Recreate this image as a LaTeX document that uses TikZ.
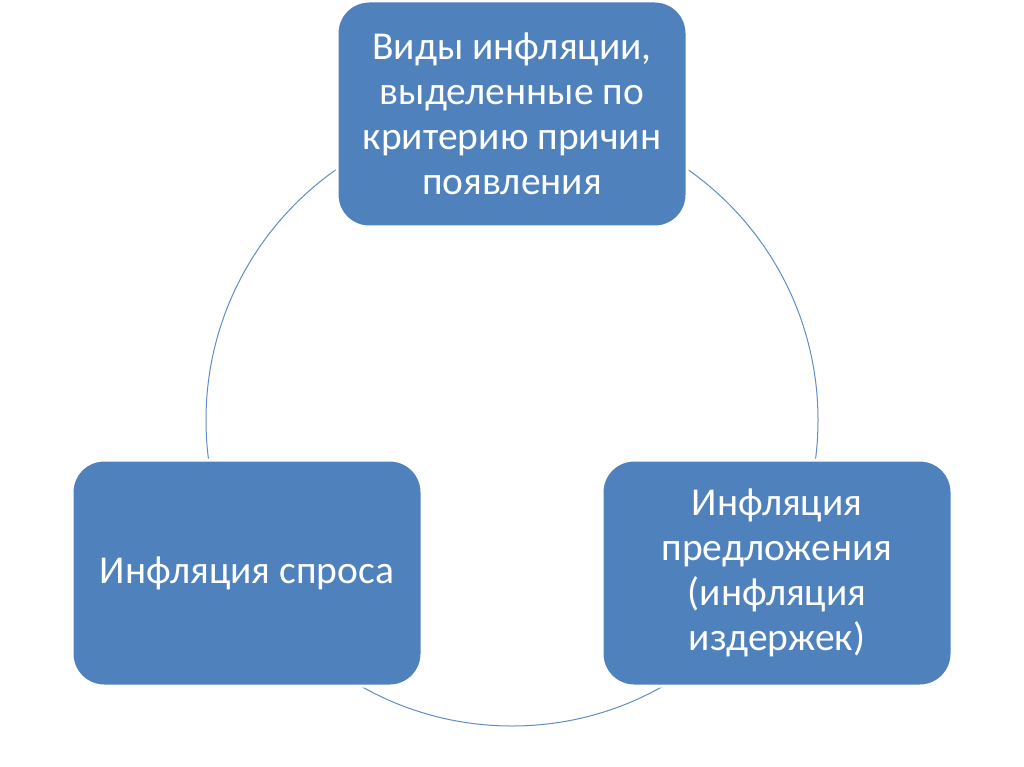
\documentclass[tikz,border=0pt]{standalone}
\usepackage{fontspec}
\setmainfont{Carlito}
\usepackage{xcolor}
\definecolor{boxblue}{HTML}{4F81BD}
\definecolor{ringblue}{HTML}{5F8CC4}
\usetikzlibrary{positioning}

\begin{document}
\begin{tikzpicture}[
    x=1pt, y=-1pt,
    box/.style={
        rectangle,
        draw=white,
        line width=3pt,
        fill=boxblue,
        rounded corners=32pt,
        minimum width=350pt,
        minimum height=226pt,
        align=center,
        text=white,
        font=\fontsize{39.5}{45}\selectfont
    },
    ring/.style={draw=ringblue, line width=1pt}
]
\useasboundingbox (0,0) rectangle (1024,767);

\coordinate (mid) at (512,420);
\draw[ring] (mid) circle (306pt);

\node[box] (kinds)  at (512,114) {Виды инфляции,\\выделенные по\\критерию причин\\появления};
\node[box] (demand) at (247,573) {Инфляция спроса};
\node[box] (supply) at (777,573) {Инфляция\\предложения\\(инфляция\\издержек)};

\end{tikzpicture}
\end{document}
